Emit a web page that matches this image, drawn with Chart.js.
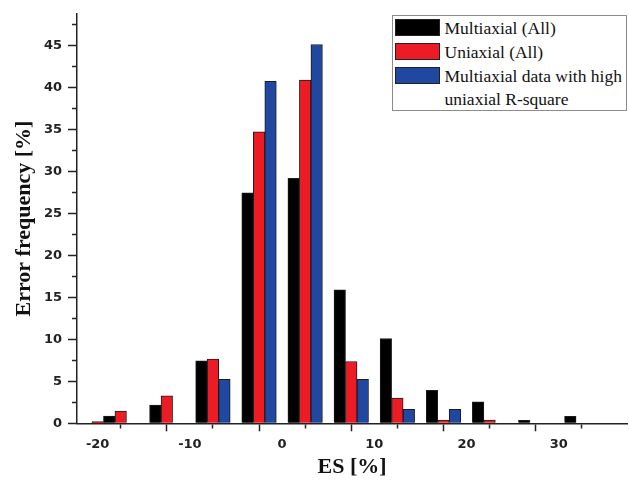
<!DOCTYPE html>
<html>
<head>
<meta charset="utf-8">
<script src="https://cdn.jsdelivr.net/npm/chart.js@4.4.1/dist/chart.umd.min.js"></script>
<style>
  html, body { margin: 0; padding: 0; background: #fff; }
  #wrap { position: relative; width: 629px; height: 480px; }
  #legend {
    position: absolute; left: 392px; top: 15px; width: 235px; height: 96px;
    box-sizing: border-box; border: 1px solid #8c8c8c; padding-top: 1px;
    font-family: 'Liberation Serif', 'Times New Roman', serif; font-size: 17.5px;
    line-height: 23px; color: #111; background: #fff;
  }
  .item { display: flex; align-items: flex-start; margin-bottom: 1px; }
  .sw { width: 45px; height: 17px; box-sizing: border-box; border: 1px solid #222; margin: 2px 0 0 2px; flex: none; }
  .tx { margin-left: 4.5px; width: 181px; }
</style>
</head>
<body>
<div id="wrap">
  <canvas id="c" width="629" height="480"></canvas>
  <div id="legend"></div>
</div>
<script>
// ---- data ----
const binCenters = [-17.5, -12.5, -7.5, -2.5, 2.5, 7.5, 12.5, 17.5, 22.5, 27.5, 32.5];
const multiaxialAll = [0.87, 2.17, 7.44, 27.43, 29.17, 15.9, 10.1, 3.92, 2.57, 0.36, 0.83];
const uniaxialAll   = [1.46, 3.28, 7.64, 34.7, 40.85, 7.36, 3.0, 0.39, 0.39, null, null];
const multiaxialHighR2 = [null, null, 5.22, 40.7, 45.1, 5.22, 1.66, 1.66, null, null, null];
// a lone uniaxial bar drawn centred on -20 in the reference
const uniaxialExtraX = [-20];
const uniaxialExtraY = [0.2];

const seriesLabels = ['Multiaxial (All)', 'Uniaxial (All)', 'Multiaxial data with high uniaxial R-square'];
const xMajorTicks = [-20, -10, 0, 10, 20, 30];
const yMajorTicks = [0, 5, 10, 15, 20, 25, 30, 35, 40, 45];
const xTitle = 'ES [%]';
const yTitle = 'Error frequency [%]';

const colors = {
  black: '#000000', red: '#ED1C24', blue: '#2148A0', edge: '#1c1c1c'
};

function pts(xs, ys) {
  const out = [];
  xs.forEach((x, i) => { if (ys[i] !== null) out.push({ x: x, y: ys[i] }); });
  return out;
}

const barCommon = { barThickness: 11.5, borderWidth: 1, borderColor: colors.edge };

const datasets = [
  Object.assign({ label: seriesLabels[0], data: pts(binCenters, multiaxialAll), backgroundColor: colors.black, inLegend: true }, barCommon),
  Object.assign({ label: seriesLabels[1], data: pts(binCenters, uniaxialAll), backgroundColor: colors.red, inLegend: true }, barCommon),
  Object.assign({ label: seriesLabels[2], data: pts(binCenters, multiaxialHighR2), backgroundColor: colors.blue, inLegend: true }, barCommon),
  Object.assign({ label: seriesLabels[1], data: pts(uniaxialExtraX, uniaxialExtraY), backgroundColor: colors.red, grouped: false, inLegend: false }, barCommon)
];

const axisColor = '#222';
const tickFont = { family: "'DejaVu Sans', sans-serif", size: 13, weight: 'bold' };
const titleFont = { family: "'Liberation Serif', 'Times New Roman', serif", size: 22, weight: 'bold', lineHeight: 1 };

const chart = new Chart(document.getElementById('c'), {
  type: 'bar',
  data: { datasets: datasets },
  options: {
    responsive: false,
    animation: false,
    devicePixelRatio: 1,
    layout: { padding: { top: 12.7, right: 2, left: 0, bottom: 0 } },
    plugins: { legend: { display: false }, tooltip: { enabled: false } },
    scales: {
      x: {
        type: 'linear',
        min: -22.24, max: 37.4,
        offset: false,
        afterFit: s => { s.height = 56.7; },
        border: { display: true, color: axisColor, width: 1.5 },
        grid: {
          drawOnChartArea: false, drawTicks: true, tickLength: 8,
          tickColor: axisColor, tickWidth: 1.5,
          tickBorderDash: ctx => (ctx.tick && xMajorTicks.includes(ctx.tick.value)) ? [] : [4, 100],
          tickBorderDashOffset: 0
        },
        ticks: {
          stepSize: 5, autoSkip: false, includeBounds: false, maxRotation: 0,
          padding: 6, color: axisColor, font: tickFont,
          callback: v => xMajorTicks.includes(v) ? String(v) : ''
        },
        title: { display: true, text: xTitle, color: '#111', font: titleFont, padding: { top: 0, bottom: 2 } }
      },
      y: {
        type: 'linear',
        min: 0, max: 48.75,
        afterFit: s => { s.width = 77; },
        border: { display: true, color: axisColor, width: 1.5 },
        grid: {
          drawOnChartArea: false, drawTicks: true, tickLength: 9,
          tickColor: axisColor, tickWidth: 1.5,
          tickBorderDash: ctx => (ctx.tick && yMajorTicks.includes(ctx.tick.value)) ? [] : [5, 100],
          tickBorderDashOffset: ctx => (ctx.tick && yMajorTicks.includes(ctx.tick.value)) ? 0 : 101
        },
        ticks: {
          stepSize: 2.5, autoSkip: false, includeBounds: false,
          padding: 6, color: axisColor, font: tickFont,
          callback: v => yMajorTicks.includes(v) ? String(v) : ''
        },
        title: { display: true, text: yTitle, color: '#111', font: titleFont, padding: { top: 13, bottom: 0 } }
      }
    }
  }
});

// HTML legend built from the chart's datasets
const legendEl = document.getElementById('legend');
chart.data.datasets.forEach(ds => {
  if (!ds.inLegend) return;
  const item = document.createElement('div');
  item.className = 'item';
  const sw = document.createElement('div');
  sw.className = 'sw';
  sw.style.background = ds.backgroundColor;
  const tx = document.createElement('div');
  tx.className = 'tx';
  tx.textContent = ds.label;
  item.appendChild(sw);
  item.appendChild(tx);
  legendEl.appendChild(item);
});
</script>
</body>
</html>
